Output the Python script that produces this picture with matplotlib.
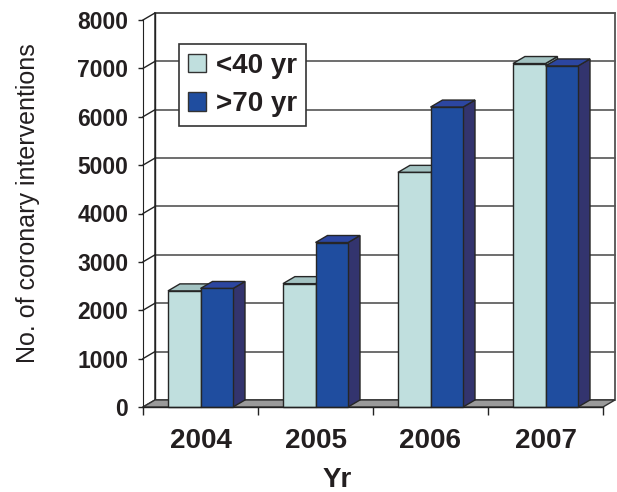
import matplotlib
matplotlib.use('Agg')
import matplotlib.pyplot as plt
from matplotlib.patches import Polygon, Patch

plt.rcParams['font.family'] = ['Liberation Sans', 'DejaVu Sans']

# data
years = ['2004', '2005', '2006', '2007']
under40 = [2400, 2550, 4850, 7100]
over70 = [2450, 3400, 6200, 7050]
series_names = ['<40 yr', '>70 yr']
yticks = [0, 1000, 2000, 3000, 4000, 5000, 6000, 7000, 8000]

# colours: front, top, side
light = ('#c0dfde', '#a3c3c2', '#8aaaa9')
dark = ('#1f4d9f', '#2c46a0', '#33346e')
ink = '#231f20'

DX, DY = 0.104, 145   # depth shift of the 3d box
W = 0.283             # bar width in category units
YMAX = yticks[-1]


def poly(ax, pts, fc, z, ec='#262626', lw=1.0):
    ax.add_patch(Polygon(pts, closed=True, facecolor=fc, edgecolor=ec,
                         lw=lw, zorder=z, clip_on=False, joinstyle='miter'))


def column(ax, x0, h, cols, z):
    x1 = x0 + W
    side = [(x1, 0), (x1 + DX, DY), (x1 + DX, h + DY), (x1, h)]
    top = [(x0, h), (x1, h), (x1 + DX, h + DY), (x0 + DX, h + DY)]
    front = [(x0, 0), (x1, 0), (x1, h), (x0, h)]
    poly(ax, side, cols[2], z)
    poly(ax, top, cols[1], z)
    poly(ax, front, cols[0], z + 0.01)


fig = plt.figure(figsize=(6.17, 4.92), dpi=100)
ax = fig.add_axes([143 / 617, 85 / 492, 460 / 617, 387 / 492])
ax.set_xlim(0, len(years))
ax.set_ylim(0, YMAX)
ax.patch.set_visible(False)
n = len(years)

# back wall + gridlines
poly(ax, [(DX, DY), (n + DX, DY), (n + DX, YMAX + DY), (DX, YMAX + DY)], 'white', 0.5,
     ec='#444444', lw=1.2)
for v in yticks[1:]:
    ax.plot([DX, n + DX], [v + DY, v + DY], color='#555555', lw=1.2, zorder=0.6, clip_on=False)
# left wall
for v in yticks:
    ax.plot([0, DX], [v, v + DY], color='#222222', lw=1.0, zorder=0.6, clip_on=False)
ax.plot([DX, DX], [DY, YMAX + DY], color='#222222', lw=1.0, zorder=0.6, clip_on=False)

# floor
poly(ax, [(0, 0), (n, 0), (n + DX, DY), (DX, DY)], '#9a9a9a', 0.7, ec='#333333', lw=1.0)

for i in range(n):
    column(ax, i + 0.217, under40[i], light, 1 + i * 0.1)
    column(ax, i + 0.5, over70[i], dark, 1.05 + i * 0.1)

# axes
for s in ['top', 'right', 'bottom']:
    ax.spines[s].set_visible(False)
ax.spines['left'].set_color('#222222')
ax.spines['left'].set_zorder(3)
ax.plot([0, n], [0, 0], color='#222222', lw=1.0, zorder=3, clip_on=False)

ax.set_yticks(yticks)
ax.set_yticklabels([str(v) for v in yticks], fontsize=16.5, fontweight='bold', color=ink)
ax.tick_params(axis='y', length=3.6, width=1, pad=7, color='#222222')

ax.set_xticks(range(n + 1))
ax.set_xticklabels([])
ax.tick_params(axis='x', which='major', length=6, width=1, color='#222222')
ax.set_xticks([i + 0.5 for i in range(n)], minor=True)
ax.set_xticklabels(years, minor=True, fontsize=20, fontweight='bold', color=ink)
ax.tick_params(axis='x', which='minor', length=0, pad=15)

fig.text(28 / 617, 1 - 203 / 492, 'No. of coronary interventions', rotation=90,
         ha='center', va='center', fontsize=18, color=ink)
fig.text(337 / 617, 1 - 480 / 492, 'Yr', ha='center', va='center',
         fontsize=20, fontweight='bold', color=ink)

handles = [Patch(facecolor=light[0], edgecolor='#333333'),
           Patch(facecolor=dark[0], edgecolor='#333333')]
leg = ax.legend(handles, series_names, loc='upper left',
                bbox_to_anchor=(179 / 617, 1 - 44 / 492), bbox_transform=fig.transFigure,
                fancybox=False, framealpha=1, edgecolor='#333333',
                prop={'size': 20, 'weight': 'bold'}, handlelength=0.65, handleheight=0.65,
                handletextpad=0.35, labelspacing=0.45, borderpad=0.32, borderaxespad=0)
leg.get_frame().set_linewidth(1.2)
leg.set_zorder(5)
for t in leg.get_texts():
    t.set_color(ink)

fig.savefig('out.png', dpi=100)
